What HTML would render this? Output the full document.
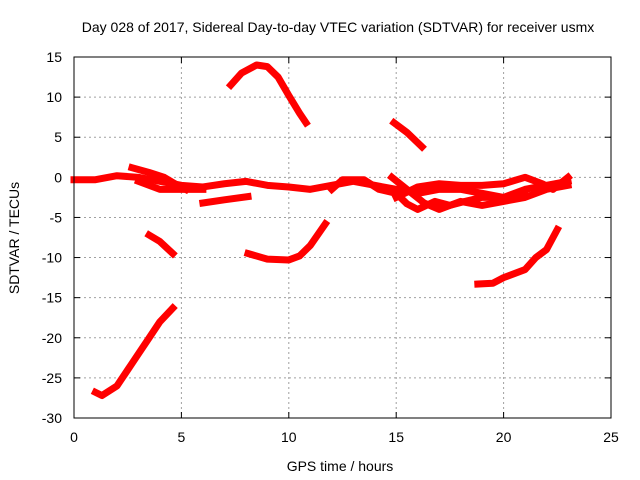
<!DOCTYPE html>
<html><head><meta charset="utf-8"><style>
body{margin:0;background:#fff}
svg{display:block;font-family:"Liberation Sans",sans-serif}
</style></head><body>
<svg id="chart" width="640" height="480">
<rect width="640" height="480" fill="#fff"/>
<text x="338" y="32" font-size="14" text-anchor="middle">Day 028 of 2017, Sidereal Day-to-day VTEC variation (SDTVAR) for receiver usmx</text>
<text x="340" y="471" font-size="14" text-anchor="middle">GPS time / hours</text>
<text x="0" y="0" font-size="14" text-anchor="middle" transform="translate(19,238) rotate(-90)">SDTVAR / TECUs</text>
<g id="grid"></g><g id="ticks"></g><g id="marks"></g>
<rect x="74" y="57" width="537" height="361" fill="none" stroke="#000" stroke-width="1"/>
</svg>
<script>
const xTicks=[0,5,10,15,20,25];
const yTicks=[15,10,5,0,-5,-10,-15,-20,-25,-30];
const track1=[[0,-0.3],[1,-0.3],[2,0.2],[3,0],[4,-0.5],[5,-1],[6,-1.2],[7,-0.8],[8,-0.5],[9,-1],[10,-1.2],[11,-1.5],[12,-1],[13,-0.5],[14,-1],[15,-1.5],[16,-2],[17,-1.5],[18,-1.5],[19,-2],[20,-2.5],[21,-1.5],[22,-1],[23,-0.5]];
const track2=[[2.7,1.2],[3.5,0.6],[4.2,0],[4.7,-0.8],[5.2,-1.5]];
const track3=[[3,-0.5],[4,-1.5],[5,-1.5],[6,-1.5]];
const track4=[[6,-3.2],[7,-2.8],[8.1,-2.4]];
const track5=[[12,-1.5],[12.5,-0.3],[13.5,-0.3],[14.2,-1.5],[15,-2],[15.5,-3.3],[16,-4],[16.8,-3],[17.5,-3.5],[18.2,-3],[19,-2.5],[20,-2.5],[21,-2]];
const track6=[[15,-2.5],[16,-1.2],[17,-0.8],[18,-1],[19,-1],[20,-0.8],[21,0],[21.8,-0.8],[22.3,-1.5],[23,0]];
const track7=[[14.8,0],[15.5,-1.5],[16.3,-3.2],[17,-4],[18,-3],[19,-3.5],[20,-3],[21,-2.5],[22,-1.5],[23,-1]];
const track8=[[7.3,11.5],[7.8,13],[8.5,14],[9,13.8],[9.5,12.5],[10,10.2],[10.5,8],[10.8,6.8]];
const track9=[[14.9,6.8],[15.5,5.6],[16.2,3.8]];
const track10=[[3.5,-7.2],[4,-8],[4.6,-9.5]];
const track11=[[8.1,-9.5],[9,-10.2],[10,-10.3],[10.5,-9.8],[11,-8.5],[11.7,-5.8]];
const track12=[[1,-26.8],[1.3,-27.2],[2,-26],[2.5,-24],[3,-22],[3.5,-20],[4,-18],[4.6,-16.3]];
const track13=[[18.8,-13.3],[19.5,-13.2],[20,-12.5],[21,-11.5],[21.5,-10],[22,-9],[22.5,-6.5]];
const tracks=[track1,track2,track3,track4,track5,track6,track7,track8,track9,track10,track11,track12,track13];
const X0=74,X1=611,Y0=418,Y1=57;
const xs=v=>X0+(v-0)/(25-0)*(X1-X0);
const ys=v=>Y0-(v+30)/(15+30)*(Y0-Y1);
const NS="http://www.w3.org/2000/svg";
const grid=document.getElementById('grid'),ticks=document.getElementById('ticks'),marks=document.getElementById('marks');
function mk(tag,attrs,parent){const e=document.createElementNS(NS,tag);for(const k in attrs)e.setAttribute(k,attrs[k]);parent.appendChild(e);return e;}
xTicks.forEach(t=>{const x=xs(t);
 if(t>0&&t<25){const g=mk('line',{x1:x,x2:x,y1:Y1,y2:Y0,stroke:'#a0a0a0','stroke-dasharray':'2,3'},grid);
 
 }
 mk('line',{x1:x,x2:x,y1:Y0,y2:Y0-6,stroke:'#000'},ticks);mk('line',{x1:x,x2:x,y1:Y1,y2:Y1+6,stroke:'#000'},ticks);
 const l=mk('text',{x:x,y:Y0+24,'font-size':14,'text-anchor':'middle'},ticks);l.textContent=t;
 
 });
yTicks.forEach(t=>{const y=ys(t);
 if(t<15&&t>-30){const g=mk('line',{x1:X0,x2:X1,y1:y,y2:y,stroke:'#a0a0a0','stroke-dasharray':'2,3'},grid);
 
 }
 mk('line',{x1:X0,x2:X0+6,y1:y,y2:y,stroke:'#000'},ticks);mk('line',{x1:X1,x2:X1-6,y1:y,y2:y,stroke:'#000'},ticks);
 const l=mk('text',{x:X0-12,y:y+5,'font-size':14,'text-anchor':'end'},ticks);l.textContent=t;
 
 });
tracks.forEach((tr,i)=>{const p=mk('polyline',{points:tr.map(d=>xs(d[0])+','+ys(d[1])).join(' '),fill:'none',stroke:'#ff0000','stroke-width':7,'stroke-linejoin':'round','stroke-linecap':'square'},marks);
 
 });
</script>
</body></html>
